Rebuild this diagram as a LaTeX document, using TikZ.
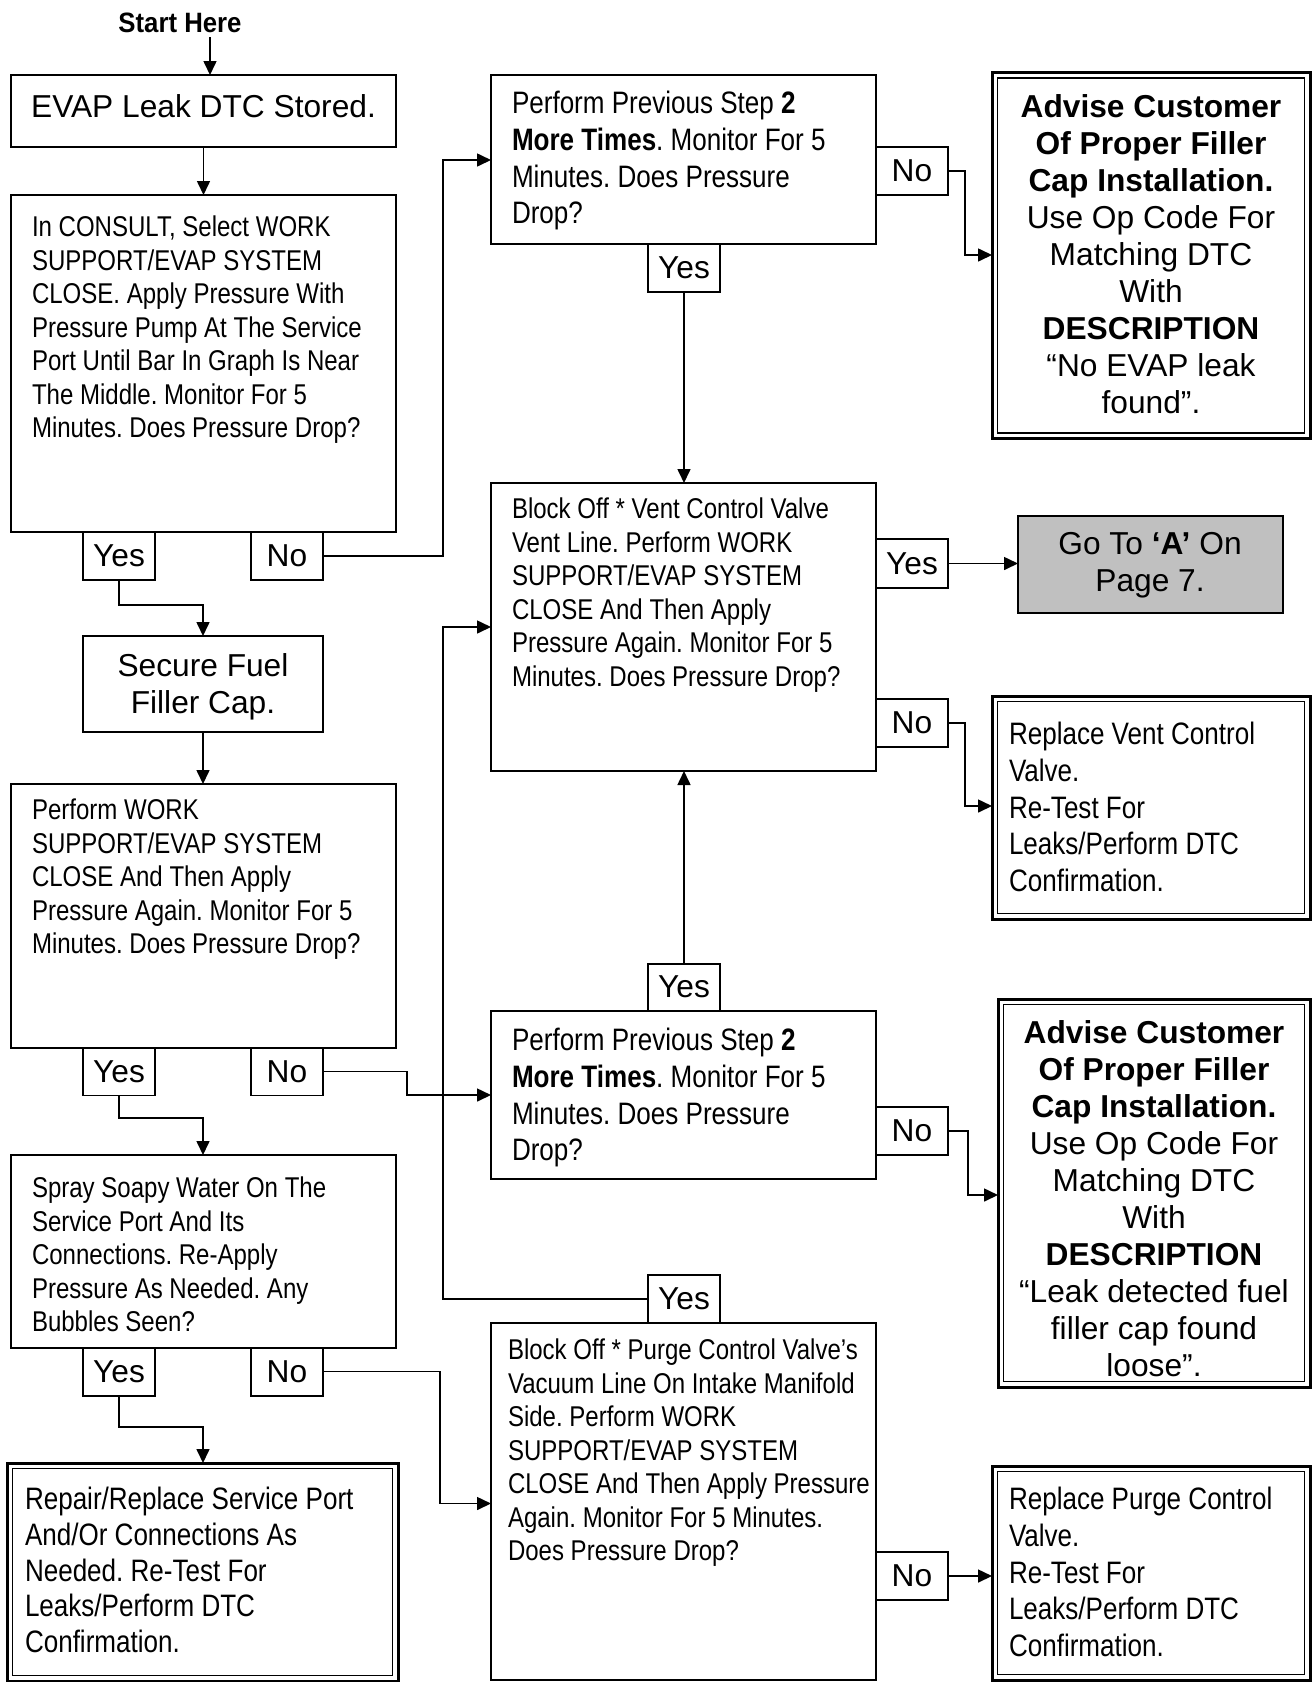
\documentclass[tikz,border=0pt]{standalone}
\usepackage{fontspec}
\setmainfont{Liberation Sans}
\newfontfamily\nfont[FakeStretch=0.84]{Liberation Sans}
\newfontfamily\starthfont[FakeStretch=0.92]{Liberation Sans}
\usetikzlibrary{arrows.meta}
\frenchspacing
\newcommand\nsmall{\nfont\fontsize{28.6}{33.5}\selectfont}
\newcommand\nlarge{\nfont\fontsize{31}{36.8}\selectfont}
\newcommand\regf{\fontsize{31.7}{37}\selectfont}
\newcommand\starthf{\starthfont\bfseries\fontsize{28}{33}\selectfont}
\tikzset{
  box/.style={draw, line width=2pt, inner sep=0pt, outer sep=0pt, anchor=north west},
  dbl/.style={draw, line width=3pt, inner sep=0pt, outer sep=0pt, anchor=north west},
  lbl/.style={draw, line width=1.8pt, inner sep=0pt, outer sep=0pt, anchor=north west,
              minimum width=72, minimum height=48, font=\regf},
  txt/.style={inner sep=0pt, outer sep=0pt, anchor=north west, align=left},
  ctxt/.style={inner sep=0pt, outer sep=0pt, anchor=north, align=center, font=\regf},
  conn/.style={line width=1.6pt},
  arr/.style={conn, -{Triangle[length=14pt,width=13pt]}},
  inner/.style={line width=1.5pt}
}
\begin{document}
\begin{tikzpicture}[x=1pt,y=-1pt]
\useasboundingbox (0,0) rectangle (1312,1682);
\fill[white] (0,0) rectangle (1312,1682);

% ---------- left column ----------
\node[ctxt, font=\starthf] (start) at (180,12.5) {Start Here};
\node[box, minimum width=385, minimum height=72] (b1) at (11,75) {};
\node[inner sep=0pt, anchor=base, font=\regf] (t1) at (203.5,117) {EVAP Leak DTC Stored.};

\node[box, minimum width=385, minimum height=337] (b2) at (11,195) {};
\node[txt, font=\nsmall] (t2) at (32,216) {In CONSULT, Select WORK\\SUPPORT/EVAP SYSTEM\\CLOSE. Apply Pressure With\\Pressure Pump At The Service\\Port Until Bar In Graph Is Near\\The Middle. Monitor For 5\\Minutes. Does Pressure Drop?};
\node[lbl] (y2) at (83,532) {Yes};
\node[lbl] (n2) at (251,532) {No};

\node[box, minimum width=240, minimum height=96] (b5) at (83,636) {};
\node[ctxt] (t5) at (203,654) {Secure Fuel\\Filler Cap.};

\node[box, minimum width=385, minimum height=263.5] (b6) at (11,784) {};
\node[txt, font=\nsmall] (t6) at (32,799) {Perform WORK\\SUPPORT/EVAP SYSTEM\\CLOSE And Then Apply\\Pressure Again. Monitor For 5\\Minutes. Does Pressure Drop?};
\node[lbl] (y6) at (83,1047.5) {Yes};
\node[lbl] (n6) at (251,1047.5) {No};

\node[box, minimum width=385, minimum height=192.6] (b9) at (11,1155) {};
\node[txt, font=\nsmall] (t9) at (32,1177) {Spray Soapy Water On The\\Service Port And Its\\Connections. Re-Apply\\Pressure As Needed. Any\\Bubbles Seen?};
\node[lbl] (y9) at (83,1347.6) {Yes};
\node[lbl] (n9) at (251,1347.6) {No};

\node[dbl, minimum width=391, minimum height=218] (b10) at (7,1463) {};
\draw[inner] ([shift={(5.5,5.5)}]b10.north west) rectangle ([shift={(-5.5,-5.5)}]b10.south east);
\node[txt, font=\nfont\fontsize{31}{35.8}\selectfont] (t10) at (25,1487) {Repair/Replace Service Port\\And/Or Connections As\\Needed. Re-Test For\\Leaks/Perform DTC\\Confirmation.};

% ---------- middle column ----------
\node[box, minimum width=385, minimum height=168.6] (b3) at (491,75) {};
\node[txt, font=\nlarge] (t3) at (512,91) {Perform Previous Step \textbf{2}\\\textbf{More Times}. Monitor For 5\\Minutes. Does Pressure\\Drop?};
\node[lbl] (n3) at (876,147) {No};
\node[lbl] (y3) at (648,243.6) {Yes};

\node[box, minimum width=385, minimum height=288] (b4) at (491,483) {};
\node[txt, font=\nsmall] (t4) at (512,498) {Block Off * Vent Control Valve\\Vent Line. Perform WORK\\SUPPORT/EVAP SYSTEM\\CLOSE And Then Apply\\Pressure Again. Monitor For 5\\Minutes. Does Pressure Drop?};
\node[lbl, minimum height=49] (y4) at (876,539) {Yes};
\node[lbl] (n4) at (876,699) {No};

\node[lbl, minimum height=47] (y7) at (648,963.6) {Yes};
\node[box, minimum width=385, minimum height=168.3] (b7) at (491,1010.7) {};
\node[txt, font=\nlarge] (t7) at (512,1028) {Perform Previous Step \textbf{2}\\\textbf{More Times}. Monitor For 5\\Minutes. Does Pressure\\Drop?};
\node[lbl] (n7) at (876,1107) {No};

\node[lbl] (y8) at (648,1275) {Yes};
\node[box, minimum width=385, minimum height=357] (b8) at (491,1323) {};
\node[txt, font=\nsmall] (t8) at (508,1339) {Block Off * Purge Control Valve’s\\Vacuum Line On Intake Manifold\\Side. Perform WORK\\SUPPORT/EVAP SYSTEM\\CLOSE And Then Apply Pressure\\Again. Monitor For 5 Minutes.\\Does Pressure Drop?};
\node[lbl] (n8) at (876,1552) {No};

% ---------- right column ----------
\node[dbl, minimum width=318, minimum height=366] (a1) at (992,72.5) {};
\draw[inner] ([shift={(5.5,5.5)}]a1.north west) rectangle ([shift={(-5.5,-5.5)}]a1.south east);
\node[ctxt] (ta1) at (1151,94.6) {\textbf{Advise Customer}\\\textbf{Of Proper Filler}\\\textbf{Cap Installation.}\\Use Op Code For\\Matching DTC\\With\\\textbf{DESCRIPTION}\\“No EVAP leak\\found”.};

\node[box, fill={rgb,255:red,192;green,192;blue,192}, minimum width=265, minimum height=97] (go) at (1018,516) {};
\node[ctxt] (tgo) at (1150,532) {Go To \textbf{‘A’} On\\Page 7.};

\node[dbl, minimum width=318, minimum height=223] (rv) at (992,696) {};
\draw[inner] ([shift={(5.5,5.5)}]rv.north west) rectangle ([shift={(-5.5,-5.5)}]rv.south east);
\node[txt, font=\nlarge] (trv) at (1009,722) {Replace Vent Control\\Valve.\\Re-Test For\\Leaks/Perform DTC\\Confirmation.};

\node[dbl, minimum width=312, minimum height=388] (a2) at (998,999) {};
\draw[inner] ([shift={(5.5,5.5)}]a2.north west) rectangle ([shift={(-5.5,-5.5)}]a2.south east);
\node[ctxt] (ta2) at (1154,1021) {\textbf{Advise Customer}\\\textbf{Of Proper Filler}\\\textbf{Cap Installation.}\\Use Op Code For\\Matching DTC\\With\\\textbf{DESCRIPTION}\\“Leak detected fuel\\filler cap found\\loose”.};

\node[dbl, minimum width=318, minimum height=214] (rp) at (992,1466) {};
\draw[inner] ([shift={(5.5,5.5)}]rp.north west) rectangle ([shift={(-5.5,-5.5)}]rp.south east);
\node[txt, font=\nlarge] (trp) at (1009,1487) {Replace Purge Control\\Valve.\\Re-Test For\\Leaks/Perform DTC\\Confirmation.};

% ---------- connectors ----------
\coordinate (s1) at (210,37);
\draw[arr] (s1) -- (s1 |- b1.north);
\draw[arr] (b1.south) -- (b2.north);

\coordinate (j1) at (443,160);
\draw[arr] (n2.east) -| (j1) -- (j1 -| b3.west);

\coordinate (j2) at (965,255);
\draw[arr] (n3.east) -| (j2) -- (j2 -| a1.west);

\draw[arr] (y3.south) -- (y3.south |- b4.north);

\draw[arr] (y4.east) -- (y4.east -| go.west);

\coordinate (j3) at (965,806);
\draw[arr] (n4.east) -| (j3) -- (j3 -| rv.west);

\draw[arr] (y7.north) -- (y7.north |- b4.south);

\coordinate (j4) at (968,1195);
\draw[arr] (n7.east) -| (j4) -- (j4 -| a2.west);

\draw[arr] (n8.east) -- (n8.east -| rp.west);

\coordinate (j5) at (443,627);
\draw[arr] (y8.west) -| (j5) -- (j5 -| b4.west);

\coordinate (j6) at (203,605);
\draw[arr] (y2.south) |- (j6) -- (j6 |- b5.north);
\draw[arr] (b5.south) -- (b5.south |- b6.north);

\coordinate (j7) at (407,1095);
\draw[arr] (n6.east) -| (j7) -- (j7 -| b7.west);

\coordinate (j8) at (203,1118);
\draw[arr] (y6.south) |- (j8) -- (j8 |- b9.north);

\coordinate (j9) at (440,1503.5);
\draw[arr] (n9.east) -| (j9) -- (j9 -| b8.west);

\coordinate (j10) at (203,1427);
\draw[arr] (y9.south) |- (j10) -- (j10 |- b10.north);
\end{tikzpicture}
\end{document}
